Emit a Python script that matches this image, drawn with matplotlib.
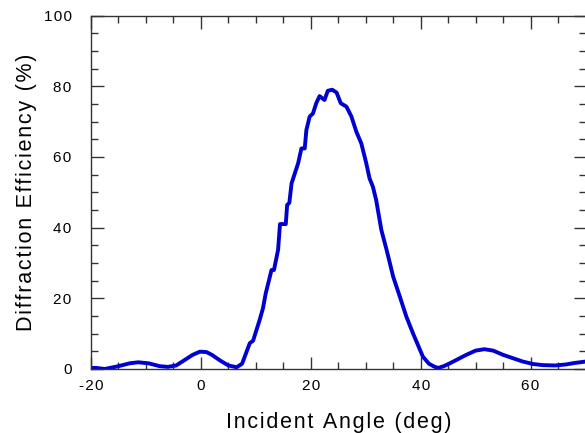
import matplotlib
matplotlib.use('Agg')
import matplotlib.pyplot as plt
from matplotlib.ticker import MultipleLocator, FuncFormatter

plt.rcParams['font.family'] = ['Liberation Sans', 'DejaVu Sans']
plt.rcParams['axes.unicode_minus'] = False

# incident angle (deg) and diffraction efficiency (%)
angle = [-20, -19, -17.5, -15, -13, -11.4, -9.5, -7.5, -6, -4.5, -3, -1.5,
         -0.2, 1, 2, 3.5, 5, 6.5, 7.5, 8.9, 9.5, 10.7, 11.3, 11.8, 12.3,
         12.85, 13.3, 14.05, 14.4, 15.45, 15.7, 16.1, 16.5, 17.7, 18.3,
         18.9, 19.2, 19.8, 20.4, 21.0, 21.6, 22.5, 23.1, 23.9, 24.7, 25.45,
         26.5, 27.4, 28.3, 29.2, 30.1, 30.7, 31.3, 31.9, 32.85, 33.8, 35.0,
         36.2, 37.4, 38.6, 40.4, 41.5, 42.5, 43.2, 44.2, 45.3, 48.3, 50,
         51.6, 53.2, 55.0, 58.6, 60.5, 62.2, 64.5, 66.5, 68, 70]
eff = [0.3, 0.3, 0.0, 0.8, 1.6, 1.9, 1.6, 0.8, 0.6, 1.0, 2.5, 4.0,
       4.9, 4.8, 4.0, 2.4, 1.0, 0.5, 1.5, 7.3, 8.0, 13.9, 17.2, 21.4, 24.5,
       28, 28, 33.7, 41, 41, 46.4, 47, 52.5, 58.2, 62.4,
       62.4, 67.6, 71.4, 72.3, 75.2, 77.2, 76.1, 78.7, 79, 78.2, 75.2,
       74.2, 71.4, 67.1, 63.8, 58.2, 53.9, 51.6, 47.8, 39.3, 33.7, 26.1,
       20.5, 14.8, 10.1, 3.5, 1.5, 0.65, 0.3, 0.8, 1.6, 4.0, 5.2,
       5.6, 5.2, 4.0, 2.1, 1.4, 1.1, 1.0, 1.3, 1.7, 2.1]


def spaced(s, sp='\u200a'):
    # the original text is drawn with a little extra letter spacing
    return sp.join(s)


fig = plt.figure(figsize=(5.85, 4.33), dpi=100)
ax = fig.add_axes([91 / 585, 64 / 433, 494.5 / 585, 353.5 / 433])

ax.plot(angle, eff, color='#0000d0', lw=2.8, solid_joinstyle='round')

ax.set_xlim(-20, 70)
ax.set_ylim(0, 100)
ax.xaxis.set_major_locator(MultipleLocator(20))
ax.xaxis.set_minor_locator(MultipleLocator(5))
ax.yaxis.set_major_locator(MultipleLocator(20))
ax.yaxis.set_minor_locator(MultipleLocator(5))
fmt = FuncFormatter(lambda v, p: spaced('%d' % v))
ax.xaxis.set_major_formatter(fmt)
ax.yaxis.set_major_formatter(fmt)
ax.tick_params(which='both', direction='in', top=True, right=True,
               labelsize=11, color='#333333', width=1)
ax.tick_params(which='major', length=9)
ax.tick_params(axis='y', which='major', pad=14)
ax.tick_params(axis='x', which='major', pad=7)
ax.tick_params(which='minor', length=5)
for s in ax.spines.values():
    s.set_color('#333333')
    s.set_linewidth(1)

ax.set_xlabel(spaced('Incident Angle (deg)'), fontsize=15.5, labelpad=14)
ax.set_ylabel(spaced('Diffraction Efficiency (%)'), fontsize=15.5)
ax.yaxis.set_label_coords(-0.110, 0.5)

fig.savefig('out.png', dpi=100)
